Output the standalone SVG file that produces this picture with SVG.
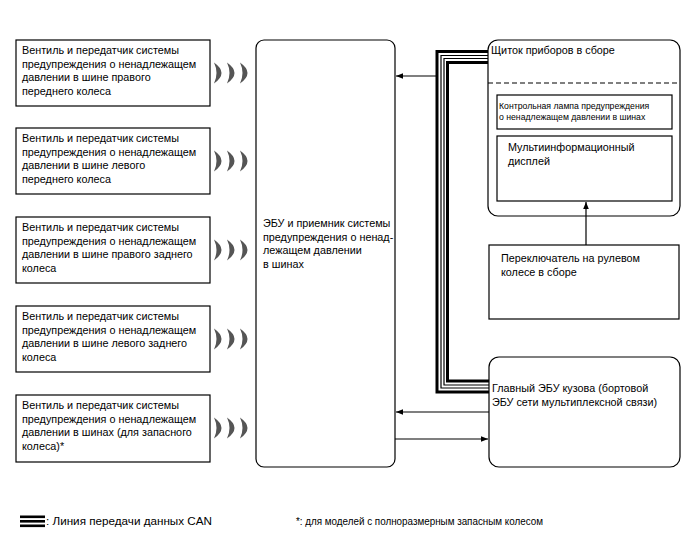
<svg xmlns="http://www.w3.org/2000/svg" width="688" height="560" viewBox="0 0 688 560">
<defs>
<marker id="ah" viewBox="0 0 10 10" refX="10" refY="5" markerWidth="10" markerHeight="7" markerUnits="userSpaceOnUse" orient="auto">
<path d="M0,1 L10,5 L0,9 Z" fill="#000"/>
</marker>
<path id="wave" d="M0,-10.5 Q15,0 0,10.5 Q5,0 0,-10.5 Z"/>
</defs>
<style>
text{font-family:"Liberation Sans",Arial,sans-serif;font-size:10.8px;fill:#000}
.box{fill:#fff;stroke:#000;stroke-width:1.2}
.sm{font-size:8.7px}
.lg{font-size:10.5px}
.w{fill:#555}
.con{fill:none;stroke:#000;stroke-width:1.2}
.bus1{fill:none;stroke:#000;stroke-width:3}
.bus2{fill:none;stroke:#000;stroke-width:1.2}
</style>
<rect width="688" height="560" fill="#fff"/>

<g id="tpms1">
<rect class="box" x="16" y="40" width="194" height="66"/>
<text x="22" y="54">Вентиль и передатчик системы</text>
<text x="22" y="67.5">предупреждения о ненадлежащем</text>
<text x="22" y="81">давлении в шине правого</text>
<text x="22" y="94.5">переднего колеса</text>
<use href="#wave" class="w" x="214" y="73"/><use href="#wave" class="w" x="227" y="73"/><use href="#wave" class="w" x="240" y="73"/>
</g>
<g id="tpms2">
<rect class="box" x="16" y="128" width="194" height="66"/>
<text x="22" y="142">Вентиль и передатчик системы</text>
<text x="22" y="155.5">предупреждения о ненадлежащем</text>
<text x="22" y="169">давлении в шине левого</text>
<text x="22" y="182.5">переднего колеса</text>
<use href="#wave" class="w" x="214" y="161"/><use href="#wave" class="w" x="227" y="161"/><use href="#wave" class="w" x="240" y="161"/>
</g>
<g id="tpms3">
<rect class="box" x="16" y="217" width="194" height="66"/>
<text x="22" y="231">Вентиль и передатчик системы</text>
<text x="22" y="244.5">предупреждения о ненадлежащем</text>
<text x="22" y="258">давлении в шине правого заднего</text>
<text x="22" y="271.5">колеса</text>
<use href="#wave" class="w" x="214" y="250"/><use href="#wave" class="w" x="227" y="250"/><use href="#wave" class="w" x="240" y="250"/>
</g>
<g id="tpms4">
<rect class="box" x="16" y="306" width="194" height="66"/>
<text x="22" y="320">Вентиль и передатчик системы</text>
<text x="22" y="333.5">предупреждения о ненадлежащем</text>
<text x="22" y="347">давлении в шине левого заднего</text>
<text x="22" y="360.5">колеса</text>
<use href="#wave" class="w" x="214" y="339"/><use href="#wave" class="w" x="227" y="339"/><use href="#wave" class="w" x="240" y="339"/>
</g>
<g id="tpms5">
<rect class="box" x="16" y="395" width="194" height="67"/>
<text x="22" y="409">Вентиль и передатчик системы</text>
<text x="22" y="422.5">предупреждения о ненадлежащем</text>
<text x="22" y="436">давлении в шинах (для запасного</text>
<text x="22" y="449.5">колеса)*</text>
<use href="#wave" class="w" x="214" y="428"/><use href="#wave" class="w" x="227" y="428"/><use href="#wave" class="w" x="240" y="428"/>
</g>

<g id="tpms-ecu">
<rect class="box" x="256" y="40" width="139" height="427" rx="8"/>
<text x="263" y="227">ЭБУ и приемник системы</text>
<text x="263" y="240.5">предупреждения о ненад-</text>
<text x="263" y="254">лежащем давлении</text>
<text x="263" y="267.5">в шинах</text>
</g>

<g id="combination-meter">
<rect class="box" x="488" y="40" width="192" height="176" rx="10"/>
<line x1="488" y1="83" x2="680" y2="83" stroke="#000" stroke-width="1.2" stroke-dasharray="5,3"/>
<text x="491" y="54">Щиток приборов в сборе</text>
<rect class="box" x="497" y="95" width="175" height="34"/>
<text class="sm" x="499" y="109">Контрольная лампа предупреждения</text>
<text class="sm" x="499" y="120">о ненадлежащем давлении в шинах</text>
<rect class="box" x="497" y="136" width="175" height="65"/>
<text x="508" y="151">Мультиинформационный</text>
<text x="508" y="164.5">дисплей</text>
</g>

<g id="steering-switch">
<rect class="box" x="489" y="245" width="190" height="74"/>
<text x="501" y="262">Переключатель на рулевом</text>
<text x="501" y="275.5">колесе в сборе</text>
</g>

<g id="main-body-ecu">
<rect class="box" x="489" y="357" width="191" height="110" rx="10"/>
<text x="492" y="392">Главный ЭБУ кузова (бортовой</text>
<text x="492" y="405.5">ЭБУ сети мультиплексной связи)</text>
</g>

<g id="connectors">
<path class="bus1" d="M488,51.5 H437 V392 H489"/>
<path class="bus2" d="M488,55.5 H441 V388 H489"/>
<path class="bus2" d="M488,58.5 H444 V385 H489"/>
<path class="bus1" d="M488,62.5 H447.5 V381 H489"/>
<line class="con" x1="437" y1="76" x2="396" y2="76" marker-end="url(#ah)"/>
<line class="con" x1="489" y1="412" x2="396" y2="412" marker-end="url(#ah)"/>
<line class="con" x1="395" y1="439" x2="488" y2="439" marker-end="url(#ah)"/>
<line class="con" x1="586" y1="245" x2="586" y2="202" marker-end="url(#ah)"/>
</g>

<g id="legend">
<rect x="20" y="515.5" width="25" height="2.6" fill="#000"/>
<rect x="20" y="520" width="25" height="2.6" fill="#000"/>
<rect x="20" y="524.5" width="25" height="2.6" fill="#000"/>
<text class="lg" x="46" y="525" textLength="166" lengthAdjust="spacingAndGlyphs">: Линия передачи данных CAN</text>
<text class="lg" x="296" y="525" textLength="247" lengthAdjust="spacingAndGlyphs">*: для моделей с полноразмерным запасным колесом</text>
</g>
</svg>
